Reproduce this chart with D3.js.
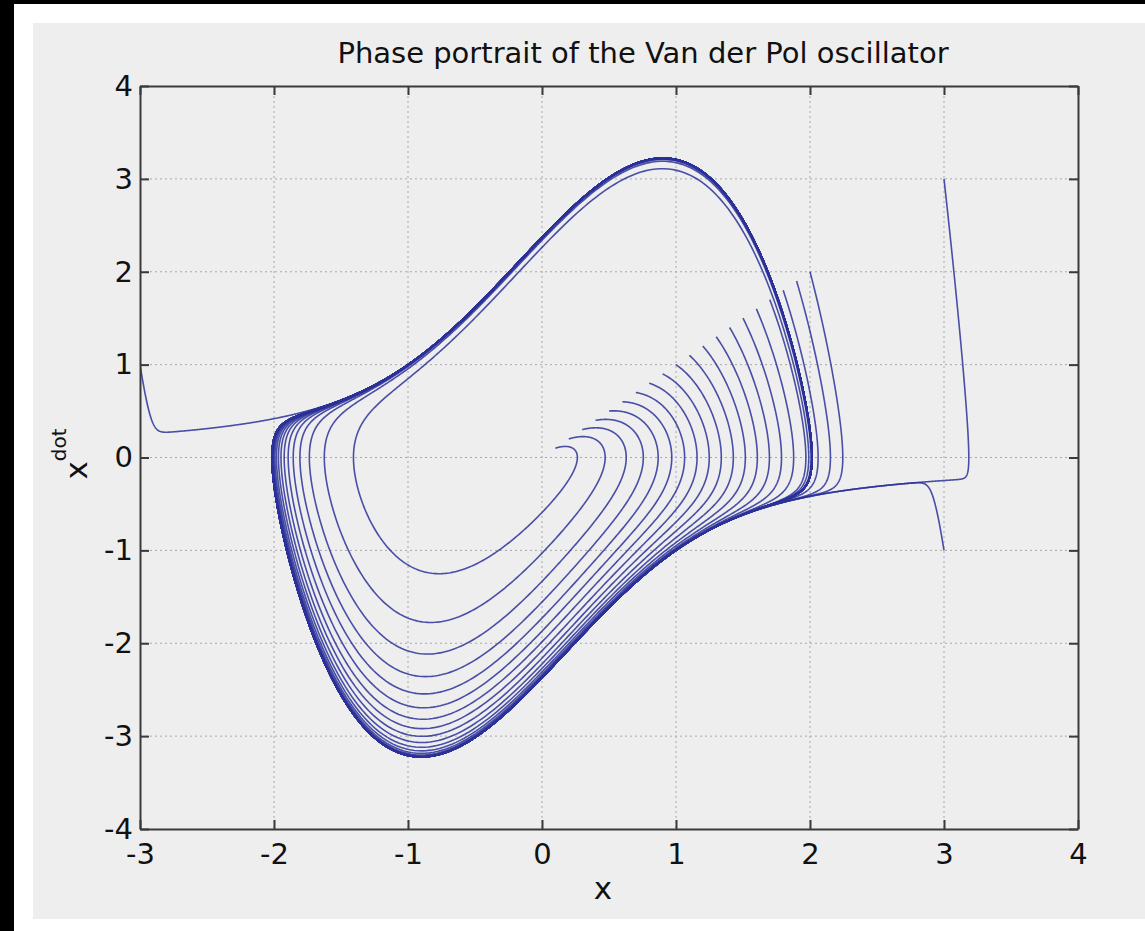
<!DOCTYPE html>
<html>
<head>
<meta charset="utf-8">
<script src="https://cdn.jsdelivr.net/npm/d3@7"></script>
<style>
  body { margin: 0; background: #000; }
  text { font-family: "DejaVu Sans", sans-serif; fill: #111; }
</style>
</head>
<body>
<svg id="canvas" width="1145" height="931"></svg>
<script>
"use strict";

// starting states (x, xdot)
const startX = [0.1, 0.2, 0.3, 0.4, 0.5, 0.6, 0.7, 0.8, 0.9, 1.0,
                1.1, 1.2, 1.3, 1.4, 1.5, 1.6, 1.7, 1.8, 1.9, 2.0,
                3, 3, -3];
const startY = [0.1, 0.2, 0.3, 0.4, 0.5, 0.6, 0.7, 0.8, 0.9, 1.0,
                1.1, 1.2, 1.3, 1.4, 1.5, 1.6, 1.7, 1.8, 1.9, 2.0,
                3, -1, 1];

// oscillator damping and run length
const mu = 1.5;
const tEnd = 25;
const dt = 0.01;

const xTicks = [-3, -2, -1, 0, 1, 2, 3, 4];
const yTicks = [-4, -3, -2, -1, 0, 1, 2, 3, 4];

const svg = d3.select("#canvas");

const plotL = 140, plotR = 1078, plotT = 86, plotB = 829;

const x = d3.scaleLinear().domain([-3, 4]).range([plotL, plotR]);
const y = d3.scaleLinear().domain([-4, 4]).range([plotB, plotT]);

// page background
svg.append("rect").attr("x", 0).attr("y", 0).attr("width", 1145).attr("height", 931).attr("fill", "#000");
svg.append("rect").attr("x", 14).attr("y", 4).attr("width", 1131).attr("height", 927).attr("fill", "#fff");
svg.append("rect").attr("x", 33).attr("y", 23).attr("width", 1112).attr("height", 896).attr("fill", "#eeeeee");

// van der pol: x' = y, y' = mu (1 - x^2) y - x
const deriv = (px, py) => [py, mu * (1 - px * px) * py - px];

const integrate = (x0, y0) => {
  let px = x0, py = y0;
  const pts = [[px, py]];
  const n = Math.round(tEnd / dt);
  for (let i = 0; i < n; i++) {
    const k1 = deriv(px, py);
    const k2 = deriv(px + dt / 2 * k1[0], py + dt / 2 * k1[1]);
    const k3 = deriv(px + dt / 2 * k2[0], py + dt / 2 * k2[1]);
    const k4 = deriv(px + dt * k3[0], py + dt * k3[1]);
    px += dt / 6 * (k1[0] + 2 * k2[0] + 2 * k3[0] + k4[0]);
    py += dt / 6 * (k1[1] + 2 * k2[1] + 2 * k3[1] + k4[1]);
    pts.push([px, py]);
  }
  return pts;
};

const paths = startX.map((sx, i) => integrate(sx, startY[i]));

// grid
const grid = svg.append("g").attr("stroke", "#a8a8a8").attr("stroke-width", 1).attr("stroke-dasharray", "2,3");
grid.selectAll(".gx").data(xTicks.slice(1, -1)).enter().append("line")
  .attr("x1", (d) => x(d)).attr("x2", (d) => x(d))
  .attr("y1", plotT).attr("y2", plotB);
grid.selectAll(".gy").data(yTicks.slice(1, -1)).enter().append("line")
  .attr("x1", plotL).attr("x2", plotR)
  .attr("y1", (d) => y(d)).attr("y2", (d) => y(d));

svg.append("clipPath").attr("id", "clip")
  .append("rect").attr("x", plotL).attr("y", plotT).attr("width", plotR - plotL).attr("height", plotB - plotT);

const line = d3.line().x((d) => x(d[0])).y((d) => y(d[1]));

svg.append("g").attr("clip-path", "url(#clip)")
  .selectAll("path").data(paths).enter().append("path")
  .attr("d", line)
  .attr("fill", "none")
  .attr("stroke", "#2b3199")
  .attr("stroke-opacity", 0.85)
  .attr("stroke-width", 1.6);

// axes, ticks pointing inward on all four sides
const fmt = (d) => String(d);
const axisStyle = (g) => {
  g.select(".domain").attr("stroke", "#3a3a3a").attr("stroke-width", 2);
  g.selectAll(".tick line").attr("stroke", "#3a3a3a").attr("stroke-width", 2);
  g.selectAll("text").attr("font-size", 29).attr("font-family", "DejaVu Sans").attr("fill", "#111");
};

svg.append("g").attr("transform", `translate(0,${plotB})`)
  .call(d3.axisBottom(x).tickValues(xTicks).tickFormat(fmt).tickSizeInner(-9).tickSizeOuter(0).tickPadding(14))
  .call(axisStyle);

svg.append("g").attr("transform", `translate(0,${plotT})`)
  .call(d3.axisTop(x).tickValues(xTicks).tickSizeInner(-9).tickSizeOuter(0).tickFormat(""))
  .call(axisStyle);

svg.append("g").attr("transform", `translate(${plotL},0)`)
  .call(d3.axisLeft(y).tickValues(yTicks).tickFormat(fmt).tickSizeInner(-9).tickSizeOuter(0).tickPadding(7))
  .call(axisStyle);

svg.append("g").attr("transform", `translate(${plotR},0)`)
  .call(d3.axisRight(y).tickValues(yTicks).tickSizeInner(-9).tickSizeOuter(0).tickFormat(""))
  .call(axisStyle);

// titles
svg.append("text").attr("x", 643).attr("y", 63).attr("text-anchor", "middle")
  .attr("font-size", 29).text("Phase portrait of the Van der Pol oscillator");

svg.append("text").attr("x", 603).attr("y", 899).attr("text-anchor", "middle")
  .attr("font-size", 31).text("x");

const yl = svg.append("text").attr("transform", "translate(87,454) rotate(-90)")
  .attr("text-anchor", "middle").attr("font-size", 31);
yl.append("tspan").text("x");
yl.append("tspan").attr("font-size", 20).attr("dy", -21).text("dot");
</script>
</body>
</html>
